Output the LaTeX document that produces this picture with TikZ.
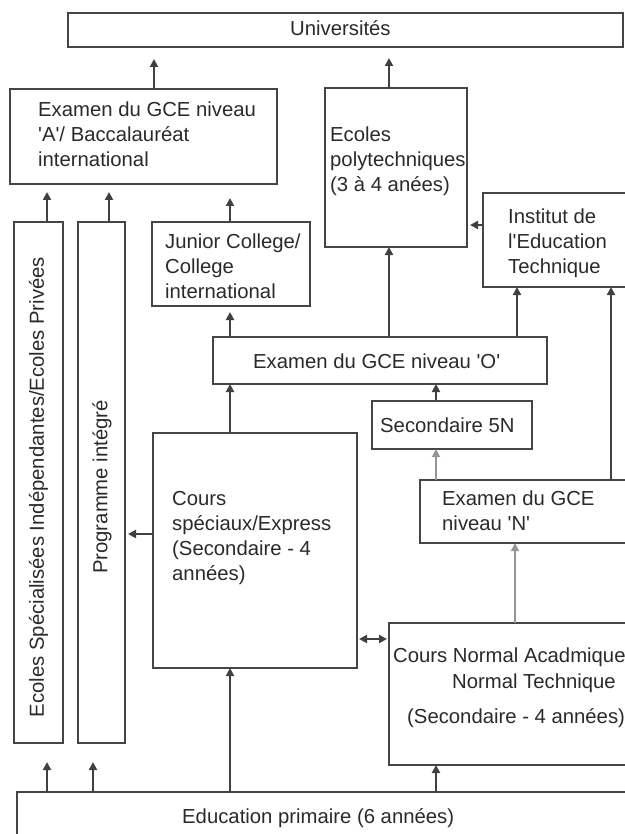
\documentclass[tikz,border=0pt]{standalone}
\usepackage{fontspec}
\setmainfont{Liberation Sans}
\usetikzlibrary{arrows.meta}
\definecolor{boxc}{HTML}{454545}
\definecolor{linec}{HTML}{404040}
\definecolor{lightc}{HTML}{959595}
\definecolor{textc}{HTML}{2A2A2A}
\begin{document}
\begin{tikzpicture}[x=1pt,y=-1pt,
  box/.style={draw=boxc, line width=2.2pt, rectangle, anchor=north west, inner sep=0pt, outer sep=0pt},
  txt/.style={anchor=base west, inner sep=0pt, align=left, text=textc, font=\fontsize{20.3}{25}\selectfont},
  vtxt/.style={rotate=90, inner sep=0pt, text=textc, font=\fontsize{20.3}{25}\selectfont},
  tip/.style={-{Triangle[length=8pt,width=8pt]}},
  arr/.style={draw=linec, line width=2.2pt, tip},
  arrl/.style={draw=lightc, line width=1.8pt, tip}]
\useasboundingbox (0,0) rectangle (624,834);
% boxes
\node[box, minimum width=555pt, minimum height=34pt] (Univ) at (68,13) {};
\node[box, minimum width=267pt, minimum height=95pt] (A) at (10,89) {};
\node[box, minimum width=49pt, minimum height=521pt] (L1) at (14,222) {};
\node[box, minimum width=47pt, minimum height=521pt] (L2) at (78,222) {};
\node[box, minimum width=158pt, minimum height=84pt] (JC) at (152,222) {};
\node[box, minimum width=142pt, minimum height=159pt] (Poly) at (325,88) {};
\node[box, minimum width=160pt, minimum height=94pt] (Inst) at (483,193) {};
\node[box, minimum width=334pt, minimum height=47pt] (O) at (213,337) {};
\node[box, minimum width=160pt, minimum height=48pt] (S5N) at (372,401) {};
\node[box, minimum width=220pt, minimum height=63pt] (N) at (420,480) {};
\node[box, minimum width=204pt, minimum height=235pt] (Spec) at (153,433) {};
\node[box, minimum width=250pt, minimum height=142pt] (CN) at (389,623) {};
\node[box, minimum width=620pt, minimum height=60pt] (Prim) at (17,792) {};
% texts (multi-line nodes: base = last line)
\node[txt] (tUniv) at (290,36) {Universités};
\node[txt] (tA) at (38,167) {Examen du GCE niveau\\\textquotesingle A\textquotesingle/ Baccalauréat\\international};
\node[txt] (tJC) at (165,298) {Junior College/\\College\\international};
\node[txt] (tPoly) at (330,192) {Ecoles\\polytechniques\\(3 à 4 anées)};
\node[txt] (tInst) at (508,273) {Institut de\\l\textquotesingle Education\\Technique};
\node[txt] (tO) at (253,368) {Examen du GCE niveau \textquotesingle O\textquotesingle};
\node[txt] (t5N) at (380,432) {Secondaire 5N};
\node[txt] (tN) at (442,530) {Examen du GCE\\niveau \textquotesingle N\textquotesingle};
\node[txt] (tSpec) at (172,580) {Cours\\spéciaux/Express\\(Secondaire - 4\\années)};
\node[txt] (tCN1) at (393,662) {Cours Normal Acadmique};
\node[txt] (tCN2) at (452,688) {Normal Technique};
\node[txt] (tCN3) at (407,723) {(Secondaire - 4 années)};
\node[txt] (tPrim) at (182,823) {Education primaire (6 années)};
\node[vtxt] (tL1) at (38.5,487) {Ecoles Spécialisées Indépendantes/Ecoles Privées};
\node[vtxt] (tL2) at (102,487) {Programme intégré};
% connectors
\draw[arr, shorten >=12pt] (154,0 |- A.north) -- (154,0 |- Univ.south);
\draw[arr, shorten >=11pt] (389,0 |- Poly.north) -- (389,0 |- Univ.south);
\draw[arr, shorten >=8pt] (47,0 |- L1.north) -- (47,0 |- A.south);
\draw[arr, shorten >=8pt] (109,0 |- L2.north) -- (109,0 |- A.south);
\draw[arr, shorten >=14pt] (230,0 |- JC.north) -- (230,0 |- A.south);
\draw[arr, shorten >=6pt] (230,0 |- O.north) -- (230,0 |- JC.south);
\draw[arr] (230,0 |- Spec.north) -- (230,0 |- O.south);
\draw[arr] (389,0 |- O.north) -- (389,0 |- Poly.south);
\draw[arr, shorten >=3pt] (Inst.west |- 0,225) -- (Poly.east |- 0,225);
\draw[arr] (517,0 |- O.north) -- (517,0 |- Inst.south);
\draw[arr] (611,0 |- N.north) -- (611,0 |- Inst.south);
\draw[arr] (436,0 |- S5N.north) -- (436,0 |- O.south);
\draw[arrl] (436,0 |- N.north) -- (436,0 |- S5N.south);
\draw[arrl] (515,0 |- CN.north) -- (515,0 |- N.south);
\draw[arr, {Triangle[length=8pt,width=8pt]}-{Triangle[length=8pt,width=8pt]}, shorten <=2pt, shorten >=2pt] (Spec.east |- 0,639) -- (CN.west |- 0,639);
\draw[arr, shorten >=3pt] (Spec.west |- 0,534) -- (L2.east |- 0,534);
\draw[arr, shorten >=19pt] (47,0 |- Prim.north) -- (47,0 |- L1.south);
\draw[arr, shorten >=19pt] (93,0 |- Prim.north) -- (93,0 |- L2.south);
\draw[arr] (230,0 |- Prim.north) -- (230,0 |- Spec.south);
\draw[arr] (436,0 |- Prim.north) -- (436,0 |- CN.south);
\end{tikzpicture}
\end{document}
